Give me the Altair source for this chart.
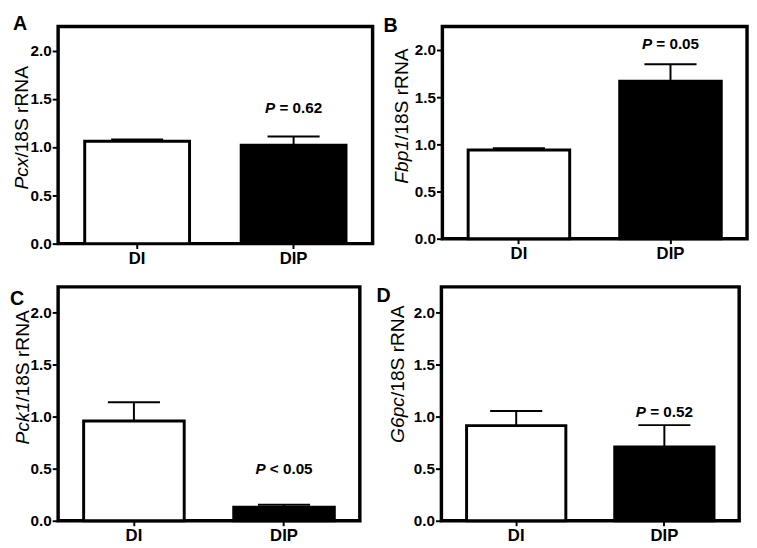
import altair as alt
import pandas as pd

# ---------------- data ----------------
letters = ["A", "B", "C", "D"]
genes = ["Pcx", "Fbp1", "Pck1", "G6pc"]
groups = ["DI", "DIP"]
di_mean = [1.06, 0.94, 0.96, 0.915]
di_sem = [0.02, 0.02, 0.18, 0.14]
dip_mean = [1.02, 1.67, 0.13, 0.71]
dip_sem = [0.09, 0.18, 0.025, 0.21]
p_texts = ["= 0.62", "= 0.05", "< 0.05", "= 0.52"]
y_ticks = [0.0, 0.5, 1.0, 1.5, 2.0]

# ---------------- style / layout ----------------
FONT = "Liberation Sans"
layout = {
    "A": dict(w=320, h=221, title_x=-37, title_y=1.20, letter_x=-46, letter_y=-12, p_y=1.40),
    "B": dict(w=310, h=216, title_x=-41, title_y=1.30, letter_x=-60, letter_y=-10, p_y=2.06),
    "C": dict(w=307, h=238, title_x=-36, title_y=1.38, letter_x=-49, letter_y=2, p_y=0.50),
    "D": dict(w=303, h=238, title_x=-44, title_y=1.41, letter_x=-66, letter_y=-1, p_y=1.05),
}

# Arial / Liberation Sans advance widths (per 1000 em)
REG = {"P": 667, "c": 500, "x": 500, "F": 611, "b": 556, "p": 556, "1": 556,
       "G": 778, "6": 556, "k": 500, "/": 278, "8": 556, "S": 667, " ": 278,
       "r": 333, "R": 722, "N": 722, "A": 667}
BOLD = {"P": 667, "=": 584, "<": 584, " ": 278, ".": 278, "0": 556, "1": 556,
        "2": 556, "5": 556, "6": 556}


def tw(s, size, table):
    return sum(table.get(ch, 556) for ch in s) / 1000.0 * size


TITLE_SIZE = 19.5
P_SIZE = 15.5


def panel(i):
    L = layout[letters[i]]
    df = pd.DataFrame({
        "group": groups,
        "mean": [di_mean[i], dip_mean[i]],
        "upper": [di_mean[i] + di_sem[i], dip_mean[i] + dip_sem[i]],
    })
    lab = pd.DataFrame({"group": ["DIP"], "py": [L["p_y"]], "ty": [L["title_y"]]})

    x_axis = alt.Axis(title=None, labelAngle=0, labelFontSize=17, labelFontWeight="bold",
                      tickSize=5, tickWidth=2, labelPadding=2, domain=False)
    x_scale = alt.Scale(domain=groups, paddingInner=0.33, paddingOuter=0.17)
    y_axis = alt.Axis(title=None, values=y_ticks, format=".1f", labelFontSize=15.5,
                      labelFontWeight="bold", tickSize=6, tickWidth=2, labelPadding=1,
                      domain=False, grid=False)
    y_scale = alt.Scale(domain=[0, 2.25], nice=False, zero=True)

    def X(f="group:N"):
        return alt.X(f, sort=groups, scale=x_scale, axis=x_axis)

    def Y(f):
        return alt.Y(f, scale=y_scale, axis=y_axis)

    base = alt.Chart(df)
    bars = base.mark_bar(stroke="black", strokeWidth=3).encode(
        x=X(), y=Y("mean:Q"),
        fill=alt.Fill("group:N", scale=alt.Scale(domain=groups, range=["white", "black"]), legend=None),
    )
    rule = base.mark_rule(color="black", strokeWidth=2).encode(x=X(), y=Y("mean:Q"), y2="upper:Q")
    cap = base.mark_tick(color="black", size=53, thickness=2, opacity=1).encode(x=X(), y=Y("upper:Q"))

    # P-value label: italic P + bold rest
    ptxt = p_texts[i]
    w_p = tw("P ", P_SIZE, BOLD)
    w_all = w_p + tw(ptxt, P_SIZE, BOLD)
    lab_base = alt.Chart(lab)
    p1 = lab_base.mark_text(text="P", font=FONT, fontSize=P_SIZE, fontWeight="bold",
                            fontStyle="italic", align="left", baseline="middle",
                            dx=-w_all / 2, color="black").encode(x=X(), y=Y("py:Q"))
    p2 = lab_base.mark_text(text=ptxt, font=FONT, fontSize=P_SIZE, fontWeight="bold",
                            align="left", baseline="middle", dx=-w_all / 2 + w_p,
                            color="black").encode(x=X(), y=Y("py:Q"))

    # y-axis title: italic gene + "/18S rRNA"
    gene = genes[i]
    rest = "/18S rRNA"
    wg = tw(gene, TITLE_SIZE, REG)
    wt = wg + tw(rest, TITLE_SIZE, REG)
    t1 = lab_base.mark_text(text=gene, font=FONT, fontSize=TITLE_SIZE, fontStyle="italic",
                            angle=270, align="left", baseline="middle", dx=-wt / 2,
                            color="black").encode(x=alt.value(L["title_x"]), y=Y("ty:Q"))
    t2 = lab_base.mark_text(text=rest, font=FONT, fontSize=TITLE_SIZE,
                            angle=270, align="left", baseline="middle", dx=-wt / 2 + wg,
                            color="black").encode(x=alt.value(L["title_x"]), y=Y("ty:Q"))

    letter = lab_base.mark_text(text=letters[i], font=FONT, fontSize=20, fontWeight="bold",
                                align="left", baseline="top", color="black").encode(
        x=alt.value(L["letter_x"]), y=alt.value(L["letter_y"]))

    return alt.layer(bars, rule, cap, p1, p2, t1, t2, letter).properties(
        width=L["w"], height=L["h"])


row1 = alt.hconcat(panel(0), panel(1), spacing=7)
row2 = alt.hconcat(panel(2), panel(3), spacing=13)

chart = alt.vconcat(row1, row2, spacing=16).properties(
    padding={"left": 0, "top": 0, "right": 0, "bottom": 0}, background="white"
).configure(font=FONT, padding={"left": 0, "top": 0, "right": 0, "bottom": 0}).configure_view(
    stroke="black", strokeWidth=3.5
).configure_axis(
    labelFont=FONT, labelColor="black", tickColor="black", grid=False
)

chart.save("out.html", embed_options={"renderer": "svg", "actions": False})
